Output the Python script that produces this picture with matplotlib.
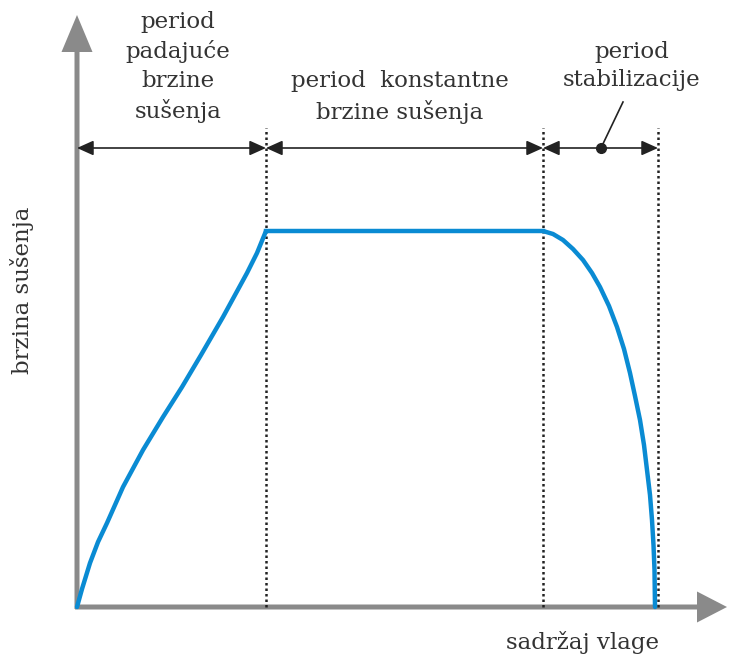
import numpy as np
import matplotlib.pyplot as plt

# drying rate curve (x = moisture content, y = drying rate), pixel-like units
rising_x = [0, 5, 13, 21, 30, 46, 66, 86, 105, 124, 146, 170, 180, 189]
rising_y = [0, 18, 44, 65, 84, 120, 157, 190, 220, 252, 290, 334, 354, 376]
plateau_x = [189, 466]
plateau_y = [376, 376]
falling_x = [466, 476, 486, 496, 506, 515, 523, 532, 540, 547, 553, 558, 563, 567, 570,
             573, 575, 576.5, 577.5, 578]
falling_y = [376, 373, 367, 358, 347, 334, 320, 301, 280, 258, 234, 211, 187, 162, 137,
             112, 87, 62, 37, 0]

# period boundaries
boundaries = [189, 466, 581]
arrow_level = 459
bound_top = 479

period_labels = ['period\npadajuće\nbrzine\nsušenja',
                 'period  konstantne\nbrzine sušenja',
                 'period\nstabilizacije']
label_pos = [(101, 540), (323, 510), (555, 541)]
xlabel = 'sadržaj vlage'
ylabel = 'brzina sušenja'

blue = '#0a8bd3'
gray = '#8a8a8a'
ink = '#222222'

plt.rcParams['font.family'] = 'DejaVu Serif'
fig = plt.figure(figsize=(7.34, 6.62), dpi=100)
ax = fig.add_axes([0, 0, 1, 1])
ax.set_xlim(-77, 657)
ax.set_ylim(-55, 607)
ax.axis('off')

# axes arrows
ax.arrow(0, -2, 0, 594, width=5, head_width=31, head_length=37,
         length_includes_head=True, color=gray, lw=0)
ax.arrow(-2, 0, 652, 0, width=5, head_width=31, head_length=30,
         length_includes_head=True, color=gray, lw=0)

# dotted boundaries
for b in boundaries:
    ax.plot([b, b], [0, bound_top], color=ink, lw=1.8, ls=(0, (1, 1.2)))

# dimension arrows
starts = [0] + boundaries[:-1]
for a, b in zip(starts, boundaries):
    ax.annotate('', xy=(b, arrow_level), xytext=(a, arrow_level),
                arrowprops=dict(arrowstyle='<|-|>,head_length=1.0,head_width=0.45',
                                mutation_scale=10, color=ink, lw=1.2,
                                shrinkA=0, shrinkB=0))

# leader to stabilisation label
ax.plot([524, 546], [459, 505], color=ink, lw=1.2)
ax.plot([524], [459], 'o', color=ink, ms=7)

# curve
ax.plot(rising_x, rising_y, color=blue, lw=3.2, solid_capstyle='round')
ax.plot(plateau_x, plateau_y, color=blue, lw=3.2)
ax.plot(falling_x, falling_y, color=blue, lw=3.2, solid_capstyle='round')

for txt, (x, y) in zip(period_labels, label_pos):
    ax.text(x, y, txt, ha='center', va='center', fontsize=16.5, color='#333333',
            linespacing=1.38)

ax.text(506, -36, xlabel, ha='center', va='center', fontsize=16.5, color='#333333')
ax.text(-55, 317, ylabel, ha='center', va='center', rotation=90, fontsize=16.5,
        color='#333333')

fig.savefig('out.png', dpi=100)
